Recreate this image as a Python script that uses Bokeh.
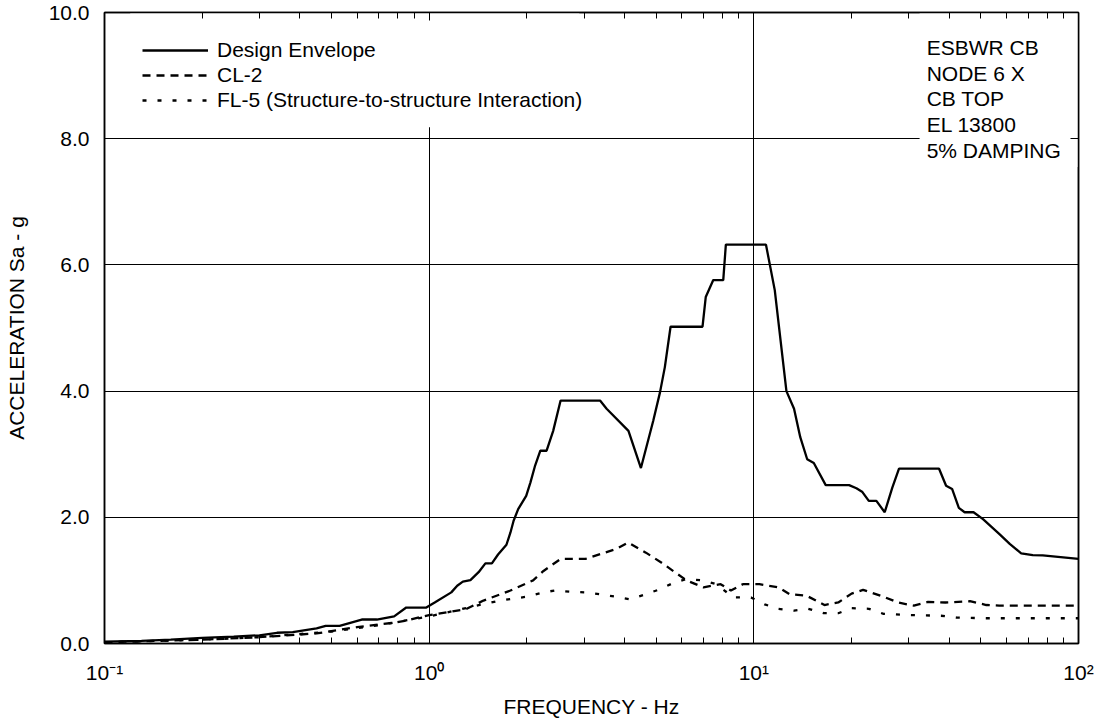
from bokeh.plotting import figure
from bokeh.models import (LogAxis, LinearAxis, FixedTicker, CustomJSTickFormatter,
                          Legend, LegendItem, Label, BoxAnnotation, Range1d)
from bokeh.embed import file_html
from bokeh.resources import INLINE

FONT = "Liberation Sans"

# ---------------- data ----------------
env_f = [0.10, 0.13, 0.16, 0.20, 0.25, 0.30, 0.34, 0.38, 0.45, 0.48, 0.53, 0.62, 0.69, 0.78,
         0.85, 0.98, 1.04, 1.17, 1.22, 1.27, 1.34, 1.42, 1.49, 1.56, 1.63, 1.73, 1.78, 1.82,
         1.88, 1.99, 2.05, 2.12, 2.20, 2.30, 2.41, 2.54, 3.36, 3.52, 4.11, 4.49, 4.90, 5.14,
         5.32, 5.54, 6.95, 7.11, 7.50, 8.05, 8.20, 10.9, 11.6, 12.6, 13.3, 13.9, 14.6, 15.3,
         16.65, 19.65, 20.7, 21.6, 22.6, 23.85, 25.3, 26.7, 28.0, 37.2, 39.1, 40.8, 42.8,
         44.6, 47.5, 50.8, 57.2, 61.4, 66.6, 72.3, 77.6, 100.0]
env_a = [0.03, 0.04, 0.06, 0.09, 0.11, 0.13, 0.17, 0.18, 0.24, 0.28, 0.28, 0.38, 0.38, 0.43,
         0.57, 0.57, 0.65, 0.81, 0.915, 0.98, 1.005, 1.13, 1.27, 1.27, 1.41, 1.565, 1.76, 1.945,
         2.13, 2.34, 2.55, 2.82, 3.055, 3.055, 3.37, 3.85, 3.85, 3.72, 3.37, 2.78, 3.53, 3.98,
         4.38, 5.02, 5.02, 5.49, 5.76, 5.76, 6.32, 6.32, 5.6, 4.0, 3.72, 3.27, 2.92, 2.86,
         2.51, 2.51, 2.46, 2.40, 2.26, 2.26, 2.08, 2.47, 2.77, 2.77, 2.50, 2.45, 2.15,
         2.08, 2.08, 1.97, 1.73, 1.58, 1.43, 1.40, 1.395, 1.34]

cl_f = [0.1, 0.2, 0.3, 0.45, 0.6, 0.78, 0.84, 1.0, 1.3, 1.47, 1.78, 2.09, 2.25, 2.54, 3.03,
        3.78, 4.1, 4.65, 5.2, 6.2, 7.0, 7.9, 8.5, 9.25, 10.4, 11.9, 12.9, 14.5, 16.5, 18.2,
        20.0, 21.7, 25.1, 27.8, 31.1, 34.4, 38.9, 46.3, 52.0, 57.0, 100.0]
cl_a = [0.02, 0.06, 0.10, 0.16, 0.26, 0.33, 0.36, 0.45, 0.545, 0.68, 0.84, 1.0, 1.15, 1.34,
        1.34, 1.5, 1.6, 1.44, 1.28, 1.0, 0.89, 0.94, 0.84, 0.94, 0.94, 0.89, 0.78, 0.76, 0.61,
        0.65, 0.79, 0.85, 0.74, 0.65, 0.6, 0.66, 0.65, 0.67, 0.61, 0.6, 0.6]

fl_f = [0.1, 0.2, 0.3, 0.5, 0.7, 1.0, 1.2, 1.4, 1.65, 1.99, 2.25, 2.44, 2.73, 3.03, 3.36, 3.78,
        4.15, 4.64, 5.14, 5.65, 6.2, 7.0, 7.66, 8.65, 9.8, 10.8, 11.9, 13.3, 14.7, 16.4, 18.2,
        20.0, 22.6, 25.1, 30.3, 37.7, 42.2, 52.0, 100.0]
fl_a = [0.02, 0.06, 0.10, 0.19, 0.29, 0.43, 0.52, 0.60, 0.68, 0.74, 0.81, 0.84, 0.82, 0.81,
        0.78, 0.74, 0.70, 0.78, 0.86, 0.96, 1.02, 1.0, 0.94, 0.73, 0.73, 0.62, 0.55, 0.52,
        0.55, 0.48, 0.48, 0.56, 0.55, 0.47, 0.45, 0.44, 0.41, 0.40, 0.40]

series_names = ["Design Envelope", "CL-2", "FL-5 (Structure-to-structure Interaction)"]

x_ticks = [0.1, 1.0, 10.0, 100.0]
x_tick_labels = ["10\u207b\u00b9", "10\u2070", "10\u00b9", "10\u00b2"]
y_ticks = [0, 2, 4, 6, 8, 10]
y_tick_labels = ["0.0", "2.0", "4.0", "6.0", "8.0", "10.0"]

note_lines = ["ESBWR CB", "NODE 6 X", "CB TOP", "EL 13800", "5% DAMPING"]

x_minor = [m * 10.0 ** d for d in (-1, 0, 1) for m in range(2, 10)]

# ---------------- figure ----------------
p = figure(width=1100, height=720, x_axis_type="log",
           x_range=Range1d(0.1, 100), y_range=Range1d(0, 10),
           output_backend="svg", toolbar_location=None,
           min_border_left=104, min_border_right=22, min_border_top=12, min_border_bottom=77)
p.background_fill_color = "white"
p.border_fill_color = "white"
p.outline_line_color = "black"
p.outline_line_width = 1.5

label_js = """
for (let i = 0; i < vals.length; i++) {
  if (Math.abs(Math.log10(vals[i]) - Math.log10(Math.abs(tick) + 1e-12)) < 1e-6 ||
      Math.abs(vals[i] - tick) < 1e-9) { return labels[i]; }
}
return "";
"""


def style_axis(ax):
    ax.axis_line_color = "black"
    ax.axis_line_width = 1.5
    ax.major_tick_in = 8
    ax.major_tick_out = 0
    ax.minor_tick_in = 6
    ax.minor_tick_out = 0
    ax.major_tick_line_color = "black"
    ax.minor_tick_line_color = "black"
    ax.major_tick_line_width = 1
    ax.minor_tick_line_width = 1
    ax.major_label_text_font = FONT
    ax.major_label_text_font_size = "21px"
    ax.major_label_text_color = "black"
    ax.axis_label_text_font = FONT
    ax.axis_label_text_font_size = "21px"
    ax.axis_label_text_font_style = "normal"
    ax.axis_label_text_color = "black"


xa = p.xaxis[0]
xa.ticker = FixedTicker(ticks=x_ticks, minor_ticks=x_minor)
xa.formatter = CustomJSTickFormatter(args=dict(vals=x_ticks, labels=x_tick_labels), code=label_js)
style_axis(xa)
xa.major_label_standoff = 17
xa.axis_label = "FREQUENCY - Hz"
xa.axis_label_standoff = 8

ya = p.yaxis[0]
ya.ticker = FixedTicker(ticks=y_ticks)
ya.formatter = CustomJSTickFormatter(args=dict(vals=y_ticks, labels=y_tick_labels),
                                     code="const i = vals.indexOf(Math.round(tick)); return i >= 0 ? labels[i] : '';")
style_axis(ya)
ya.minor_tick_line_color = None
ya.major_label_standoff = 15
ya.axis_label = "ACCELERATION Sa - g"
ya.axis_label_standoff = 18

top = LogAxis(ticker=FixedTicker(ticks=x_ticks, minor_ticks=x_minor),
              formatter=CustomJSTickFormatter(code="return '';"))
style_axis(top)
top.major_label_text_font_size = "0px"
top.major_label_standoff = 0
p.add_layout(top, "above")

right = LinearAxis(ticker=FixedTicker(ticks=y_ticks),
                   formatter=CustomJSTickFormatter(code="return '';"))
style_axis(right)
right.minor_tick_line_color = None
right.major_label_text_font_size = "0px"
right.major_label_standoff = 0
p.add_layout(right, "right")

for g in (p.xgrid[0], p.ygrid[0]):
    g.grid_line_color = "black"
    g.grid_line_width = 1
    g.level = "image"
p.xgrid[0].ticker = FixedTicker(ticks=x_ticks)
p.ygrid[0].ticker = FixedTicker(ticks=y_ticks)

# white blocks behind the legend and the annotation text
p.add_layout(BoxAnnotation(left=0.12, right=2.9, bottom=8.18, top=10,
                           fill_color="white", fill_alpha=1, line_color=None,
                           level="underlay"))
p.add_layout(BoxAnnotation(left=32.4, right=100, bottom=7.55, top=10,
                           fill_color="white", fill_alpha=1, line_color=None,
                           level="underlay"))

r1 = p.line(env_f, env_a, line_color="black", line_width=2.3)
r2 = p.line(cl_f, cl_a, line_color="black", line_width=2.3, line_dash="8 6")
r3 = p.line(fl_f, fl_a, line_color="black", line_width=2.3, line_dash="4 11")

legend = Legend(items=[LegendItem(label=series_names[0], renderers=[r1]),
                       LegendItem(label=series_names[1], renderers=[r2]),
                       LegendItem(label=series_names[2], renderers=[r3])],
                location=(38, 531), glyph_width=66, glyph_height=24, label_height=24,
                spacing=1, padding=16, margin=0, label_standoff=9,
                background_fill_color="white", background_fill_alpha=1,
                border_line_color=None, label_text_font=FONT,
                label_text_font_size="21px", label_text_color="black")
p.add_layout(legend)

note_y = [9.45, 9.04, 8.63, 8.22, 7.81]
for txt, yv in zip(note_lines, note_y):
    p.add_layout(Label(x=34.07, y=yv, text=txt, text_font=FONT, text_font_size="21px",
                       text_baseline="middle", text_align="left", text_color="black"))

open("out.html", "w").write(file_html(p, INLINE))
